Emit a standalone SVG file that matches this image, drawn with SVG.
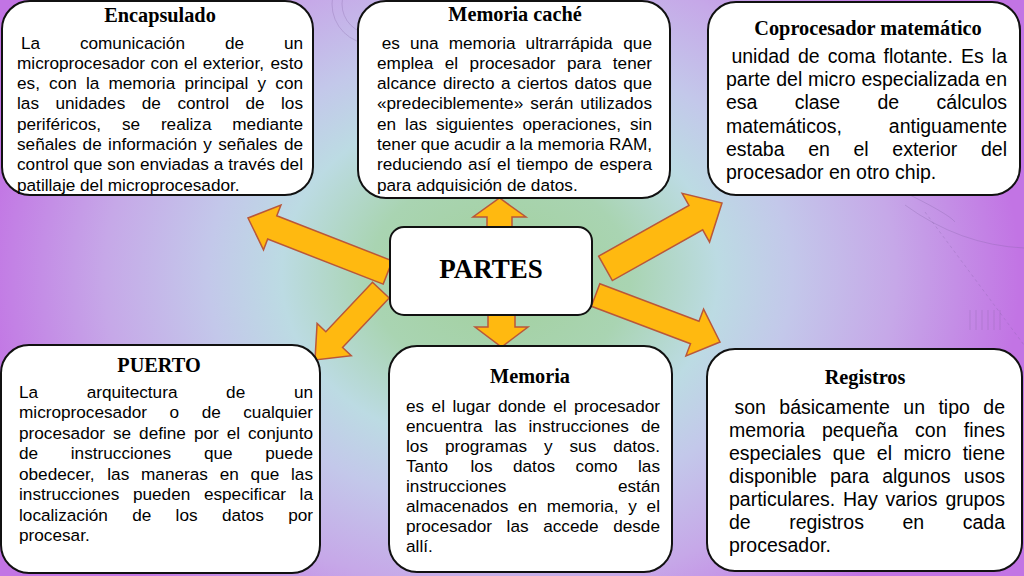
<svg xmlns="http://www.w3.org/2000/svg" width="1024" height="576" viewBox="0 0 1024 576">
<defs>
<radialGradient id="bg" gradientUnits="userSpaceOnUse" cx="500" cy="275" r="520" gradientTransform="translate(500 275) scale(1 0.8) translate(-500 -275)">
<stop offset="0" stop-color="#A2D09C"/>
<stop offset="0.25" stop-color="#A9D4B2"/>
<stop offset="0.42" stop-color="#BCDBE3"/>
<stop offset="0.56" stop-color="#C3C8EA"/>
<stop offset="0.76" stop-color="#C6A8E8"/>
<stop offset="1" stop-color="#C274E4"/>
</radialGradient>
</defs>
<style>
.box{fill:#fff;stroke:#111;stroke-width:2}
.arrow{fill:#FFB910;stroke:#B9573A;stroke-width:1.5;stroke-linejoin:miter}
.t{font-family:"Liberation Serif","Times New Roman",serif;font-weight:bold;font-size:20.3px;fill:#000;text-anchor:middle}
.b{font-family:"Liberation Sans",Arial,sans-serif;font-size:17.2px;fill:#000}
.bl{font-family:"Liberation Sans",Arial,sans-serif;font-size:19.5px;fill:#000}
.e{text-anchor:end}
.deco{fill:none;stroke:#7E5F9E;stroke-opacity:0.3;stroke-width:0.9}
</style>
<g id="background">
<rect x="0" y="0" width="1024" height="576" fill="url(#bg)"/>
</g>
<g id="decor">
<circle class="deco" cx="372" cy="4" r="40"/>
<circle class="deco" cx="372" cy="4" r="30"/>
<path class="deco" d="M905 205 Q960 245 1024 248"/>
<path class="deco" d="M910 195 Q950 215 955 222"/>
<path class="deco" stroke-dasharray="3 3" d="M925 212 L1024 345"/>
<path class="deco" d="M970 310 v20 M976 310 v20 M982 310 v20 M988 310 v20 M994 310 v20 M1000 310 v20"/>
</g>
<g id="connectors">
<polygon class="arrow" points="487,240 487,217 473,217 499.5,198 526,217 512,217 512,240"/>
<polygon class="arrow" points="488,305 488,327 475,327 501.5,347 528,327 515,327 515,305"/>
<polygon class="arrow" transform="translate(248 218) rotate(201.3)" points="-150,-12.5 -26,-12.5 -26,-24 0,0 -26,24 -26,12.5 -150,12.5"/>
<polygon class="arrow" transform="translate(315 360) rotate(133.3)" points="-96,-11.5 -28,-11.5 -28,-23.5 0,0 -28,23.5 -28,11.5 -96,11.5"/>
<polygon class="arrow" transform="translate(722 203) rotate(-29.3)" points="-133.6,-14 -30,-14 -30,-28 0,0 -30,28 -30,14 -133.6,14"/>
<polygon class="arrow" transform="translate(720 342) rotate(20.7)" points="-133,-12 -27,-12 -27,-25 0,0 -27,25 -27,12 -133,12"/>
</g>
<g id="node-partes">
<rect class="box" x="390" y="227" width="202" height="88" rx="14"/>
<text x="491" y="278" style="font-family:'Liberation Serif','Times New Roman',serif;font-weight:bold;font-size:27px;text-anchor:middle">PARTES</text>
</g>
<g id="node-encapsulado">
<rect class="box" x="2" y="1" width="311" height="194" rx="28"/>
<text class="t" x="160" y="22">Encapsulado</text>
<text class="b" y="48.5"><tspan x="21">La</tspan><tspan x="79.9">comunicación</tspan><tspan x="224.9">de</tspan><tspan x="303" class="e">un</tspan></text>
<text class="b" y="68.8"><tspan x="17">microprocesador</tspan><tspan x="150.6">con</tspan><tspan x="183.9">el</tspan><tspan x="202.8">exterior,</tspan><tspan x="303" class="e">esto</tspan></text>
<text class="b" y="89.1"><tspan x="17">es,</tspan><tspan x="49.1">con</tspan><tspan x="85.9">la</tspan><tspan x="108.4">memoria</tspan><tspan x="184.4">principal</tspan><tspan x="257.6">y</tspan><tspan x="303" class="e">con</tspan></text>
<text class="b" y="109.4"><tspan x="17">las</tspan><tspan x="55.5">unidades</tspan><tspan x="141.8">de</tspan><tspan x="177.4">control</tspan><tspan x="245.5">de</tspan><tspan x="303" class="e">los</tspan></text>
<text class="b" y="129.7"><tspan x="17">periféricos,</tspan><tspan x="121.9">se</tspan><tspan x="160.9">realiza</tspan><tspan x="303" class="e">mediante</tspan></text>
<text class="b" y="150"><tspan x="17">señales</tspan><tspan x="82.6">de</tspan><tspan x="108.1">información</tspan><tspan x="203.3">y</tspan><tspan x="218.2">señales</tspan><tspan x="303" class="e">de</tspan></text>
<text class="b" y="170.3"><tspan x="17">control</tspan><tspan x="73.6">que</tspan><tspan x="107.3">son</tspan><tspan x="140">enviadas</tspan><tspan x="213.8">a</tspan><tspan x="228.3">través</tspan><tspan x="303" class="e">del</tspan></text>
<text class="b" x="17" y="190.6">patillaje del microprocesador.</text>
</g>
<g id="node-memoria-cache">
<rect class="box" x="358" y="1" width="312" height="197" rx="28"/>
<text class="t" x="515" y="21">Memoria caché</text>
<text class="b" y="48.5"><tspan x="381.8">es</tspan><tspan x="410">una</tspan><tspan x="448.7">memoria</tspan><tspan x="525.6">ultrarrápida</tspan><tspan x="652" class="e">que</tspan></text>
<text class="b" y="68.8"><tspan x="377">emplea</tspan><tspan x="444.8">el</tspan><tspan x="469.6">procesador</tspan><tspan x="567">para</tspan><tspan x="652" class="e">tener</tspan></text>
<text class="b" y="89.1"><tspan x="377">alcance</tspan><tspan x="442.9">directo</tspan><tspan x="501.1">a</tspan><tspan x="517.3">ciertos</tspan><tspan x="574.6">datos</tspan><tspan x="652" class="e">que</tspan></text>
<text class="b" y="109.4"><tspan x="377">«predeciblemente»</tspan><tspan x="530.3">serán</tspan><tspan x="652" class="e">utilizados</tspan></text>
<text class="b" y="129.7"><tspan x="377">en</tspan><tspan x="405.1">las</tspan><tspan x="436.1">siguientes</tspan><tspan x="522.5">operaciones,</tspan><tspan x="652" class="e">sin</tspan></text>
<text class="b" y="150"><tspan x="377">tener</tspan><tspan x="420.8">que</tspan><tspan x="454">acudir</tspan><tspan x="505.4">a</tspan><tspan x="519.5">la</tspan><tspan x="537.5">memoria</tspan><tspan x="652" class="e">RAM,</tspan></text>
<text class="b" y="170.3"><tspan x="377">reduciendo</tspan><tspan x="468.1">así</tspan><tspan x="497.1">el</tspan><tspan x="516.6">tiempo</tspan><tspan x="574.3">de</tspan><tspan x="652" class="e">espera</tspan></text>
<text class="b" x="377" y="190.6">para adquisición de datos.</text>
</g>
<g id="node-coprocesador">
<rect class="box" x="708" y="2" width="312" height="193" rx="28"/>
<text class="t" x="868" y="35">Coprocesador matemático</text>
<text class="bl" y="63"><tspan x="731.4">unidad</tspan><tspan x="798">de</tspan><tspan x="827.8">coma</tspan><tspan x="883.5">flotante.</tspan><tspan x="961">Es</tspan><tspan x="1007" class="e">la</tspan></text>
<text class="bl" y="86.2"><tspan x="726">parte</tspan><tspan x="776.2">del</tspan><tspan x="808">micro</tspan><tspan x="861.4">especializada</tspan><tspan x="1007" class="e">en</tspan></text>
<text class="bl" y="109.4"><tspan x="726">esa</tspan><tspan x="794.7">clase</tspan><tspan x="877.5">de</tspan><tspan x="1007" class="e">cálculos</tspan></text>
<text class="bl" y="132.6"><tspan x="726">matemáticos,</tspan><tspan x="1007" class="e">antiguamente</tspan></text>
<text class="bl" y="155.8"><tspan x="726">estaba</tspan><tspan x="808.2">en</tspan><tspan x="853.5">el</tspan><tspan x="892.3">exterior</tspan><tspan x="1007" class="e">del</tspan></text>
<text class="bl" x="726" y="179">procesador en otro chip.</text>
</g>
<g id="node-puerto">
<rect class="box" x="1" y="345" width="319" height="228" rx="28"/>
<text class="t" x="159" y="372">PUERTO</text>
<text class="b" y="397.5"><tspan x="19">La</tspan><tspan x="86.7">arquitectura</tspan><tspan x="226.1">de</tspan><tspan x="313" class="e">un</tspan></text>
<text class="b" y="418"><tspan x="19">microprocesador</tspan><tspan x="169.6">o</tspan><tspan x="201.7">de</tspan><tspan x="313" class="e">cualquier</tspan></text>
<text class="b" y="438.5"><tspan x="19">procesador</tspan><tspan x="113">se</tspan><tspan x="139.1">define</tspan><tspan x="193.9">por</tspan><tspan x="226.7">el</tspan><tspan x="313" class="e">conjunto</tspan></text>
<text class="b" y="459"><tspan x="19">de</tspan><tspan x="70.8">instrucciones</tspan><tspan x="203.9">que</tspan><tspan x="313" class="e">puede</tspan></text>
<text class="b" y="479.5"><tspan x="19">obedecer,</tspan><tspan x="107.3">las</tspan><tspan x="141">maneras</tspan><tspan x="219.7">en</tspan><tspan x="250.6">que</tspan><tspan x="313" class="e">las</tspan></text>
<text class="b" y="500"><tspan x="19">instrucciones</tspan><tspan x="132.9">pueden</tspan><tspan x="203.9">especificar</tspan><tspan x="313" class="e">la</tspan></text>
<text class="b" y="520.5"><tspan x="19">localización</tspan><tspan x="132.2">de</tspan><tspan x="175.6">los</tspan><tspan x="221.9">datos</tspan><tspan x="313" class="e">por</tspan></text>
<text class="b" x="19" y="541">procesar.</text>
</g>
<g id="node-memoria">
<rect class="box" x="389" y="346" width="283" height="226" rx="28"/>
<text class="t" x="530" y="383">Memoria</text>
<text class="b" y="411.5"><tspan x="406">es</tspan><tspan x="431.6">el</tspan><tspan x="452.4">lugar</tspan><tspan x="498">donde</tspan><tspan x="553.2">el</tspan><tspan x="660" class="e">procesador</tspan></text>
<text class="b" y="431.6"><tspan x="406">encuentra</tspan><tspan x="494.5">las</tspan><tspan x="528.5">instrucciones</tspan><tspan x="660" class="e">de</tspan></text>
<text class="b" y="451.7"><tspan x="406">los</tspan><tspan x="444.9">programas</tspan><tspan x="544">y</tspan><tspan x="569.5">sus</tspan><tspan x="660" class="e">datos.</tspan></text>
<text class="b" y="471.8"><tspan x="406">Tanto</tspan><tspan x="470.5">los</tspan><tspan x="513">datos</tspan><tspan x="575.6">como</tspan><tspan x="660" class="e">las</tspan></text>
<text class="b" y="491.9"><tspan x="406">instrucciones</tspan><tspan x="660" class="e">están</tspan></text>
<text class="b" y="512"><tspan x="406">almacenados</tspan><tspan x="518">en</tspan><tspan x="546.8">memoria,</tspan><tspan x="628.2">y</tspan><tspan x="660" class="e">el</tspan></text>
<text class="b" y="532.1"><tspan x="406">procesador</tspan><tspan x="506.6">las</tspan><tspan x="543.2">accede</tspan><tspan x="660" class="e">desde</tspan></text>
<text class="b" x="406" y="552.2">allí.</text>
</g>
<g id="node-registros">
<rect class="box" x="707" y="349" width="315" height="222" rx="28"/>
<text class="t" x="865" y="384">Registros</text>
<text class="bl" y="414"><tspan x="734.4">son</tspan><tspan x="779.3">básicamente</tspan><tspan x="903.3">un</tspan><tspan x="938.4">tipo</tspan><tspan x="1005" class="e">de</tspan></text>
<text class="bl" y="437"><tspan x="729">memoria</tspan><tspan x="822">pequeña</tspan><tspan x="915.1">con</tspan><tspan x="1005" class="e">fines</tspan></text>
<text class="bl" y="460"><tspan x="729">especiales</tspan><tspan x="832.7">que</tspan><tspan x="876.8">el</tspan><tspan x="903.5">micro</tspan><tspan x="1005" class="e">tiene</tspan></text>
<text class="bl" y="483"><tspan x="729">disponible</tspan><tspan x="830">para</tspan><tspan x="882.2">algunos</tspan><tspan x="1005" class="e">usos</tspan></text>
<text class="bl" y="506"><tspan x="729">particulares.</tspan><tspan x="843">Hay</tspan><tspan x="885.5">varios</tspan><tspan x="1005" class="e">grupos</tspan></text>
<text class="bl" y="529"><tspan x="729">de</tspan><tspan x="789.2">registros</tspan><tspan x="902.5">en</tspan><tspan x="1005" class="e">cada</tspan></text>
<text class="bl" x="729" y="552">procesador.</text>
</g>
</svg>
